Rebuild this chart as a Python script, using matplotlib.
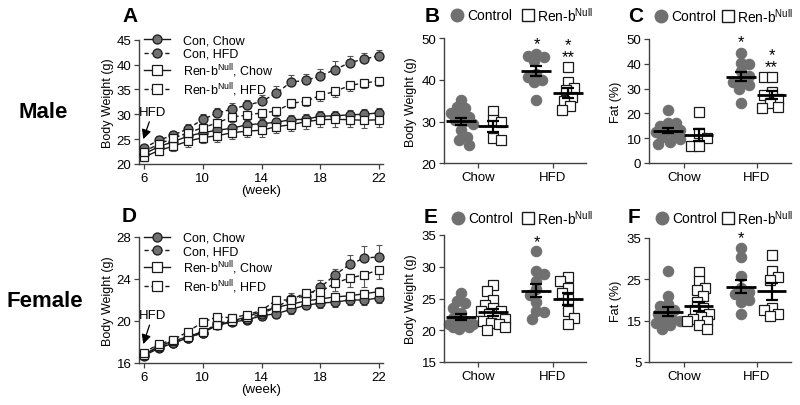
import numpy as np
import matplotlib
matplotlib.use('Agg')
import matplotlib.pyplot as plt
from matplotlib.lines import Line2D

plt.rcParams['font.family'] = ['Liberation Sans', 'DejaVu Sans']
plt.rcParams['mathtext.fontset'] = 'custom'
plt.rcParams['mathtext.rm'] = 'Liberation Sans'
plt.rcParams['mathtext.it'] = 'Liberation Sans:italic'

# ---- time course data (weeks 6..22) ----
weeks = list(range(6, 23))

m_con_chow = [22.0, 23.5, 24.5, 25.6, 26.3, 26.8, 27.2, 27.9, 28.1, 28.4, 28.9, 29.0, 29.6, 29.7, 29.9, 30.0, 30.3]
m_con_hfd = [23.2, 24.8, 25.8, 27.1, 29.0, 30.2, 31.1, 31.8, 32.6, 34.2, 36.5, 36.8, 37.7, 39.0, 40.4, 41.1, 41.8]
m_ren_chow = [21.4, 22.7, 23.6, 24.6, 25.3, 25.7, 26.3, 26.6, 26.8, 27.5, 27.9, 28.5, 28.9, 29.0, 28.9, 28.8, 28.9]
m_ren_hfd = [22.5, 24.0, 25.2, 26.3, 27.3, 28.3, 29.5, 29.8, 30.3, 30.6, 32.2, 32.6, 33.8, 34.6, 35.8, 36.3, 36.7]
m_con_chow_err = [0.6, 0.7, 0.7, 0.8, 0.8, 0.8, 0.9, 0.9, 0.9, 0.9, 1.0, 1.0, 1.0, 1.0, 1.0, 1.0, 1.0]
m_con_hfd_err = [0.7, 0.8, 0.8, 0.9, 1.0, 1.0, 1.1, 1.1, 1.2, 1.4, 1.3, 1.3, 1.5, 1.7, 1.4, 1.3, 1.1]
m_ren_chow_err = [0.8, 0.9, 1.0, 1.1, 1.1, 1.2, 1.2, 1.2, 1.3, 1.3, 1.3, 1.4, 1.5, 1.5, 1.5, 1.5, 1.4]
m_ren_hfd_err = [0.6, 0.7, 0.8, 0.8, 0.9, 0.9, 1.0, 1.0, 1.0, 1.0, 1.0, 1.0, 1.1, 1.1, 1.1, 1.1, 1.1]

f_con_chow = [16.7, 17.4, 17.9, 18.4, 18.9, 19.6, 19.9, 20.1, 20.5, 20.7, 21.1, 21.5, 21.7, 21.8, 22.0, 22.0, 22.2]
f_con_hfd = [16.8, 17.5, 17.9, 18.4, 18.9, 19.8, 20.0, 20.2, 20.7, 21.3, 22.1, 22.4, 23.2, 24.4, 25.4, 26.0, 26.1]
f_ren_chow = [16.8, 17.6, 18.1, 18.5, 19.0, 19.6, 20.0, 20.4, 20.9, 21.3, 21.6, 21.9, 22.1, 22.3, 22.4, 22.6, 22.8]
f_ren_hfd = [17.0, 17.8, 18.2, 19.0, 19.9, 20.4, 20.3, 20.6, 21.0, 22.0, 22.0, 22.7, 22.8, 23.6, 24.1, 24.4, 24.9]
f_con_chow_err = [0.2, 0.2, 0.2, 0.3, 0.3, 0.3, 0.3, 0.3, 0.4, 0.4, 0.4, 0.4, 0.5, 0.5, 0.5, 0.5, 0.5]
f_con_hfd_err = [0.2, 0.2, 0.3, 0.3, 0.3, 0.4, 0.4, 0.4, 0.5, 0.7, 0.6, 0.5, 0.7, 0.6, 0.9, 1.1, 1.1]
f_ren_chow_err = [0.2, 0.2, 0.2, 0.3, 0.3, 0.3, 0.3, 0.3, 0.3, 0.4, 0.4, 0.4, 0.4, 0.4, 0.4, 0.4, 0.4]
f_ren_hfd_err = [0.2, 0.3, 0.3, 0.3, 0.3, 0.4, 0.4, 0.4, 0.5, 0.6, 0.6, 0.6, 0.7, 0.7, 0.9, 1.2, 0.9]

# ---- individual animals ----
groups = ['Chow', 'HFD']

b_con_chow = [35.3, 33.5, 33.2, 32.0, 31.5, 31.2, 30.5, 30.0, 29.5, 28.0, 26.4, 25.5, 24.5]
b_ren_chow = [32.5, 30.5, 30.0, 26.0, 25.7]
b_con_hfd = [46.2, 45.7, 45.5, 44.5, 41.5, 40.7, 40.0, 39.5, 35.2]
b_ren_hfd = [43.0, 39.6, 38.0, 37.5, 36.0, 35.0, 33.7, 32.7]

c_con_chow = [21.5, 16.0, 16.0, 15.0, 14.0, 13.5, 13.0, 12.5, 11.5, 10.5, 9.5, 8.5, 7.5]
c_ren_chow = [20.5, 12.0, 10.0, 7.0, 7.0]
c_con_hfd = [44.5, 40.5, 40.0, 37.0, 35.0, 33.0, 32.5, 31.5, 30.0, 24.0]
c_ren_hfd = [34.5, 34.5, 28.5, 27.5, 26.0, 24.0, 22.5, 22.0]

e_con_chow = [25.8, 24.6, 24.3, 23.5, 22.7, 22.0, 21.5, 21.0, 21.0, 20.8, 20.5, 20.2, 21.0, 20.5]
e_ren_chow = [27.2, 26.2, 24.8, 24.0, 23.5, 23.0, 23.0, 22.5, 22.0, 21.8, 21.5, 21.2, 21.0, 20.5, 20.0]
e_con_hfd = [32.5, 29.3, 28.8, 27.8, 26.5, 25.5, 24.5, 23.0, 22.8, 21.8]
e_ren_hfd = [28.4, 27.7, 26.7, 25.8, 24.9, 23.0, 22.0, 21.0]

f_con_chow_pts = [27.0, 21.0, 19.0, 18.5, 17.5, 17.0, 16.5, 15.5, 15.0, 15.0, 14.5, 14.0, 13.0]
f_ren_chow_pts = [26.8, 24.5, 23.0, 22.5, 21.0, 19.5, 18.0, 17.5, 16.5, 16.0, 15.5, 15.0, 15.0, 14.0, 13.0]
f_con_hfd_pts = [32.5, 30.3, 25.8, 23.0, 22.0, 21.5, 21.5, 20.0, 19.5, 16.5]
f_ren_hfd_pts = [31.0, 27.0, 25.5, 24.8, 18.0, 17.5, 16.5, 16.2]

GREY = '#707070'
EDGE = '#1a1a1a'
AX = '#404040'
W, H = 800, 406
FS = 9.5

fig = plt.figure(figsize=(8, 4.06), dpi=100)


def rect(l, r, t, b):
    return [l / W, 1 - b / H, (r - l) / W, (b - t) / H]


def style(ax):
    for s in ['top', 'right']:
        ax.spines[s].set_visible(False)
    for s in ['left', 'bottom']:
        ax.spines[s].set_color(AX)
        ax.spines[s].set_linewidth(1.0)
    ax.tick_params(direction='out', length=3.5, width=0.9, color=AX,
                   labelsize=FS, pad=2)


def time_course(ax, series, ylim, yticks, ann):
    style(ax)
    for vals, err, marker, ls, face, up in series:
        e = np.array(err)
        z = np.zeros_like(e)
        yerr = [z, e] if up else [e, z]
        ax.errorbar(weeks, vals, yerr=yerr, fmt='none', ecolor='#555555',
                    elinewidth=0.8, capsize=2.2, capthick=0.8, zorder=2)
        ax.plot(weeks, vals, ls=ls, color=EDGE, lw=1.0, marker=marker,
                ms=6.5 if marker == 'o' else 6.2, mfc=face, mec=EDGE,
                mew=0.9, zorder=3, clip_on=False,
                dashes=(3, 2) if ls == '--' else (None, None))
    ax.set_xlim(5.66, 22.26)
    ax.set_ylim(*ylim)
    ax.set_xticks([6, 10, 14, 18, 22])
    ax.set_yticks(yticks)
    ax.set_xlabel('(week)', fontsize=FS, labelpad=0)
    ax.set_ylabel('Body Weight (g)', fontsize=9, labelpad=2)
    handles = []
    for vals, err, marker, ls, face, up in series:
        h = Line2D([0], [0], color=EDGE, lw=1.0, ls=ls, marker=marker, ms=6.5,
                   mfc=face, mec=EDGE, mew=0.9)
        if ls == '--':
            h.set_dashes((3, 2))
        handles.append(h)
    labels = ['Con, Chow', 'Con, HFD', 'Ren-b$^{\\mathrm{Null}}$, Chow',
              'Ren-b$^{\\mathrm{Null}}$, HFD']
    ax.legend(handles, labels, loc='upper left', bbox_to_anchor=(0.02, 1.04),
              frameon=False, fontsize=9, handlelength=2.1, handletextpad=1.0,
              labelspacing=0.1, borderpad=0, borderaxespad=0)
    ax.annotate('HFD', xy=ann[0], xytext=ann[1], fontsize=FS, ha='center',
                va='bottom',
                arrowprops=dict(arrowstyle='-|>', color='black', lw=0.9,
                                mutation_scale=14, shrinkA=1, shrinkB=0))


def swarm_x(ax, center, vals, d, half=13.0):
    # simple beeswarm in pixel space, clamped to +-half px around the centre
    tr = ax.transData
    placed = []
    res = np.zeros(len(vals))
    order = np.argsort(vals)[::-1]
    steps = np.arange(0, half + 0.01, 2.0)
    flip = 1
    for i in order:
        cx, cy = tr.transform((center, vals[i]))
        cands = [0.0]
        for s in steps[1:]:
            cands += [flip * s, -flip * s]
        best, best_gap = None, -1
        for off in cands:
            x = cx + off
            gap = min([np.hypot(x - px, cy - py) for px, py in placed] + [99])
            if gap >= d * 0.8:
                best = x
                break
            if gap > best_gap:
                best, best_gap = x, gap
        flip = -flip
        placed.append((best, cy))
        res[i] = tr.inverted().transform((best, cy))[0]
    return res


def dot_plot(ax, data, ylim, yticks, ylabel, xlim, stars):
    style(ax)
    ax.set_xlim(*xlim)
    ax.set_ylim(*ylim)
    ax.set_yticks(yticks)
    ax.set_xticks([0, 1])
    ax.set_xticklabels(groups)
    ax.set_ylabel(ylabel, fontsize=9, labelpad=3)
    offs = [-0.22, 0.2]
    for gi in range(2):
        for si in range(2):
            vals = np.array(data[gi][si])
            c = gi + offs[si]
            xs = swarm_x(ax, c, vals, 10.0)
            if si == 0:
                ax.plot(xs, vals, 'o', ms=7.5, mfc=GREY, mec=GREY, mew=0.8,
                        zorder=2, clip_on=False)
            else:
                ax.plot(xs, vals, 's', ms=7.0, mfc='white', mec=EDGE, mew=0.9,
                        zorder=2, clip_on=False)
            m = vals.mean()
            sem = vals.std(ddof=1) / np.sqrt(len(vals))
            ax.plot([c - 0.2, c + 0.2], [m, m], color='black', lw=2.0,
                    zorder=4, solid_capstyle='butt')
            ax.errorbar([c], [m], yerr=[sem], fmt='none', ecolor='black',
                        elinewidth=1.6, capsize=4.5, capthick=1.6, zorder=4)
    for gi, si, txt, off in stars:
        vals = data[gi][si]
        ax.annotate(txt, xy=(gi + offs[si], max(vals)), xytext=(0, off),
                    textcoords='offset pixels', ha='center', va='bottom',
                    multialignment='center', linespacing=0.75, fontsize=12)


def dot_legend(xc, y, xs):
    fig.add_artist(Line2D([xc / W], [1 - y / H], transform=fig.transFigure,
                          marker='o', ms=9, mfc=GREY, mec=GREY, ls='none'))
    fig.text((xc + 10) / W, 1 - y / H, 'Control', fontsize=10, va='center')
    fig.add_artist(Line2D([xs / W], [1 - y / H], transform=fig.transFigure,
                          marker='s', ms=8.5, mfc='white', mec=EDGE, mew=1.0,
                          ls='none'))
    fig.text((xs + 9) / W, 1 - y / H, 'Ren-b$^{\\mathrm{Null}}$', fontsize=10,
             va='center')


# ---- A ----
axA = fig.add_axes(rect(139, 383, 40.7, 165))
time_course(axA, [
    (m_con_chow, m_con_chow_err, 'o', '-', GREY, True),
    (m_con_hfd, m_con_hfd_err, 'o', '--', GREY, True),
    (m_ren_chow, m_ren_chow_err, 's', '-', 'white', False),
    (m_ren_hfd, m_ren_hfd_err, 's', '--', 'white', False),
], (20, 45), [20, 25, 30, 35, 40, 45], ((5.95, 25.0), (6.6, 29.3)))

# ---- D ----
axD = fig.add_axes(rect(139, 383, 238, 364))
time_course(axD, [
    (f_con_chow, f_con_chow_err, 'o', '-', GREY, False),
    (f_con_hfd, f_con_hfd_err, 'o', '--', GREY, True),
    (f_ren_chow, f_ren_chow_err, 's', '-', 'white', True),
    (f_ren_hfd, f_ren_hfd_err, 's', '--', 'white', False),
], (16, 28), [16, 20, 24, 28], ((5.95, 17.8), (6.6, 20.0)))

# ---- B ----
axB = fig.add_axes(rect(444, 586, 39.3, 164.3))
dot_plot(axB, [[b_con_chow, b_ren_chow], [b_con_hfd, b_ren_hfd]],
         (20, 50), [20, 30, 40, 50], 'Body Weight (g)', (-0.453, 1.44),
         [(1, 0, '*', 3), (1, 1, '*\n**', 3)])

# ---- C ----
axC = fig.add_axes(rect(649, 791, 40, 164))
dot_plot(axC, [[c_con_chow, c_ren_chow], [c_con_hfd, c_ren_hfd]],
         (0, 50), [0, 10, 20, 30, 40, 50], 'Fat (%)', (-0.48, 1.466),
         [(1, 0, '*', 4), (1, 1, '*\n**', 3)])

# ---- E ----
axE = fig.add_axes(rect(444, 586, 236, 363))
dot_plot(axE, [[e_con_chow, e_ren_chow], [e_con_hfd, e_ren_hfd]],
         (15, 35), [15, 20, 25, 30, 35], 'Body Weight (g)', (-0.453, 1.44),
         [(1, 0, '*', 2)])

# ---- F ----
axF = fig.add_axes(rect(649, 791, 239, 363))
dot_plot(axF, [[f_con_chow_pts, f_ren_chow_pts], [f_con_hfd_pts, f_ren_hfd_pts]],
         (5, 35), [5, 15, 25, 35], 'Fat (%)', (-0.48, 1.466),
         [(1, 0, '*', 3)])

# legends above dot plots
dot_legend(457, 16, 528)
dot_legend(661, 17, 728)
dot_legend(458, 219, 528)
dot_legend(662, 219, 728)

# panel letters and row labels
for letter, x, y in [('A', 130, 17), ('B', 432, 16), ('C', 636, 17),
                     ('D', 129, 217), ('E', 431, 218), ('F', 634, 218)]:
    fig.text(x / W, 1 - y / H, letter, fontsize=15, fontweight='bold',
             ha='center', va='center')
fig.text(43 / W, 1 - 113 / H, 'Male', fontsize=16, fontweight='bold',
         ha='center', va='center')
fig.text(45 / W, 1 - 302 / H, 'Female', fontsize=16, fontweight='bold',
         ha='center', va='center')

fig.savefig('out.png', dpi=100)
